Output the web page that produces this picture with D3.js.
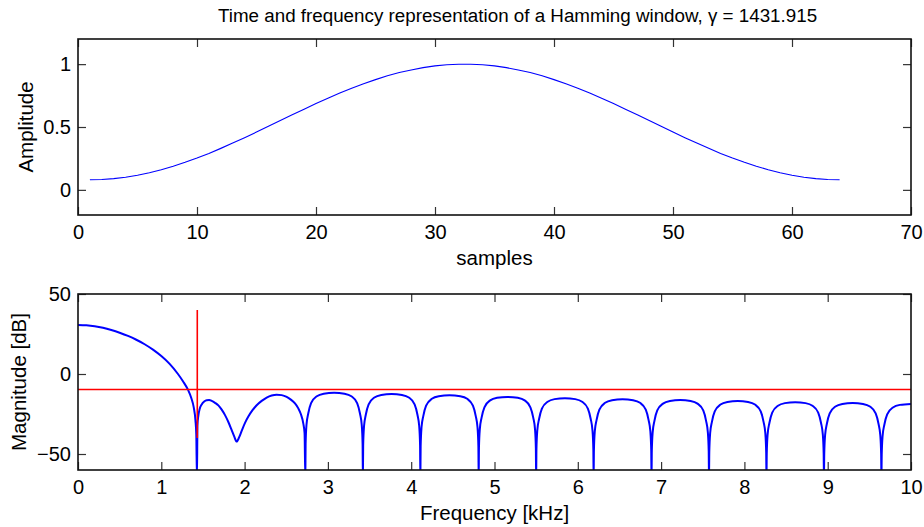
<!DOCTYPE html>
<html><head><meta charset="utf-8">
<script src="https://cdn.jsdelivr.net/npm/d3@7"></script>
<style>
body{margin:0;background:#fff;}
svg{display:block;}
text{font-family:"Liberation Sans",Arial,Helvetica,sans-serif;fill:#000;}
</style>
</head><body>
<svg id="chart" width="924" height="527"></svg>
<script>
// ---------- data ----------
const titleText = "Time and frequency representation of a Hamming window, \u03B3 = 1431.915";
const windowValues = [
0.080,0.082,0.089,0.100,0.116,0.136,0.160,0.188,0.219,0.253,0.290,0.330,0.372,0.415,0.460,0.506,
0.552,0.597,0.642,0.687,0.729,0.770,0.809,0.844,0.877,0.907,0.933,0.954,0.972,0.986,0.995,0.999,
0.999,0.995,0.986,0.972,0.954,0.933,0.907,0.877,0.844,0.809,0.770,0.729,0.687,0.642,0.597,0.552,
0.506,0.460,0.415,0.372,0.330,0.290,0.253,0.219,0.188,0.160,0.136,0.116,0.100,0.089,0.082,0.080];
const sampleTicks = [0,10,20,30,40,50,60,70];
const amplitudeTicks = [0,0.5,1];

const freqKHz = [
0,0.1,0.2,0.3,0.4,0.5,0.6,0.7,0.8,0.9,1.0,1.1,1.2,1.26,1.32,1.36,1.39,1.41,1.42,1.428,
1.434,1.445,1.46,1.485,1.515,1.545,1.575,1.605,1.645,1.685,1.725,1.765,1.805,1.845,1.875,1.905,1.935,1.965,2.005,2.045,2.095,2.145,2.205,2.265,2.325,2.385,2.445,2.505,2.555,2.605,2.645,2.675,2.705,2.72,2.729,
2.7325,2.743,2.764,2.798,2.867,2.950,3.0745,3.199,3.282,3.351,3.385,3.406,3.4165,3.42,
3.4235,3.434,3.455,3.489,3.558,3.641,3.765,3.889,3.972,4.041,4.075,4.096,4.1065,4.11,
4.1135,4.124,4.145,4.179,4.248,4.331,4.46,4.589,4.672,4.741,4.775,4.796,4.8065,4.81,
4.8135,4.824,4.845,4.879,4.948,5.031,5.155,5.279,5.362,5.431,5.465,5.486,5.4965,5.50,
5.5035,5.514,5.535,5.569,5.638,5.721,5.845,5.969,6.052,6.121,6.155,6.176,6.1865,6.19,
6.1935,6.204,6.225,6.259,6.328,6.411,6.5375,6.664,6.747,6.816,6.85,6.871,6.8815,6.885,
6.8885,6.899,6.92,6.954,7.023,7.106,7.23,7.354,7.437,7.506,7.54,7.561,7.5715,7.575,
7.5785,7.589,7.61,7.644,7.713,7.796,7.92,8.044,8.127,8.196,8.23,8.251,8.2615,8.265,
8.2685,8.279,8.30,8.334,8.403,8.486,8.61,8.734,8.817,8.886,8.92,8.941,8.9515,8.955,
8.9585,8.969,8.99,9.024,9.093,9.176,9.30,9.424,9.507,9.576,9.61,9.631,9.6415,9.645,
9.6485,9.659,9.68,9.714,9.783,9.866,10.0];
const magDb = [
30.7,30.5,29.9,28.9,27.5,25.8,23.8,21.4,18.6,15.2,11.2,6.3,0.0,-4.5,-9.8,-15,-21,-29,-38,-65,
-32,-26,-22,-19,-17.2,-16.4,-16.3,-16.8,-18,-19.6,-22.3,-25.7,-30,-35.1,-39,-42.2,-39.5,-35.5,-30.5,-26.6,-22.6,-19.5,-16.8,-14.7,-13.4,-12.9,-13.2,-14.3,-16,-18.4,-21.5,-25,-31,-37,-65,
-43.7,-31.7,-24.7,-18.2,-13.9,-12.3,-11.7,-12.3,-13.9,-18.2,-24.7,-31.7,-43.7,-65,
-44.5,-32.5,-25.5,-19.0,-14.7,-13.1,-12.5,-13.1,-14.7,-19.0,-25.5,-32.5,-44.5,-65,
-45.3,-33.3,-26.3,-19.8,-15.5,-13.9,-13.3,-13.9,-15.5,-19.8,-26.3,-33.3,-45.3,-65,
-46.3,-34.3,-27.3,-20.8,-16.5,-14.9,-14.3,-14.9,-16.5,-20.8,-27.3,-34.3,-46.3,-65,
-47.1,-35.1,-28.1,-21.6,-17.3,-15.7,-15.1,-15.7,-17.3,-21.6,-28.1,-35.1,-47.1,-65,
-47.8,-35.8,-28.8,-22.3,-18.0,-16.4,-15.8,-16.4,-18.0,-22.3,-28.8,-35.8,-47.8,-65,
-48.3,-36.3,-29.3,-22.8,-18.5,-16.9,-16.3,-16.9,-18.5,-22.8,-29.3,-36.3,-48.3,-65,
-48.9,-36.9,-29.9,-23.4,-19.1,-17.5,-16.9,-17.5,-19.1,-23.4,-29.9,-36.9,-48.9,-65,
-49.6,-37.6,-30.6,-24.1,-19.8,-18.2,-17.6,-18.2,-19.8,-24.1,-30.6,-37.6,-49.6,-65,
-50.1,-38.1,-31.1,-24.6,-20.3,-18.7,-18.1,-18.7,-20.3,-24.6,-31.1,-38.1,-50.1,-65,
-50.7,-38.7,-31.7,-25.2,-20.9,-19.3,-18.7];
const freqTicks = [0,1,2,3,4,5,6,7,8,9,10];
const dbTicks = [-50,0,50];
const cutoffKHz = 1.431915;
const cutoffSpanDb = [-40, 40];
const thresholdDb = -9.7;

// ---------- layout ----------
const svg = d3.select("#chart");
const L = 78, R = 911;
const top1 = 39, bot1 = 215, top2 = 294, bot2 = 470;
const FS = 20;      // tick labels
const LFS = 20.5;   // axis labels
const TICK = 8;

svg.append("rect").attr("width",924).attr("height",527).attr("fill","#fff");

const defs = svg.append("defs");
defs.append("clipPath").attr("id","clip1").append("rect").attr("x",L).attr("y",top1).attr("width",R-L).attr("height",bot1-top1);
defs.append("clipPath").attr("id","clip2").append("rect").attr("x",L).attr("y",top2).attr("width",R-L).attr("height",bot2-top2);

function drawAxes(x, y, xTicks, yTicks, yTop, yBot, xFmt, yFmt) {
  const gb = svg.append("g").attr("transform",`translate(0,${yBot})`)
    .call(d3.axisBottom(x).tickValues(xTicks).tickSize(-TICK).tickPadding(10).tickFormat(xFmt));
  const gt = svg.append("g").attr("transform",`translate(0,${yTop})`)
    .call(d3.axisTop(x).tickValues(xTicks).tickSize(-TICK).tickFormat(""));
  const gl = svg.append("g").attr("transform",`translate(${L},0)`)
    .call(d3.axisLeft(y).tickValues(yTicks).tickSize(-TICK).tickPadding(7).tickFormat(yFmt));
  const gr = svg.append("g").attr("transform",`translate(${R},0)`)
    .call(d3.axisRight(y).tickValues(yTicks).tickSize(-TICK).tickFormat(""));
  [gb,gt,gl,gr].forEach(g=>{
    g.select(".domain").remove();
    g.selectAll(".tick line").attr("stroke","#333").attr("stroke-width",1.2);
    g.selectAll(".tick text").attr("font-size",FS).attr("fill","#000")
      .attr("font-family","Liberation Sans, Arial, sans-serif");
  });
  gb.selectAll(".tick text").attr("dy","0.72em");
  svg.append("rect").attr("x",L).attr("y",yTop).attr("width",R-L).attr("height",yBot-yTop)
    .attr("fill","none").attr("stroke","#111").attr("stroke-width",1.6);
}

// ---------- top plot ----------
const x1 = d3.scaleLinear().domain([0,70]).range([L,R]);
const y1 = d3.scaleLinear().domain([-0.2,1.2]).range([bot1,top1]);

svg.append("path")
  .datum(windowValues)
  .attr("clip-path","url(#clip1)")
  .attr("fill","none").attr("stroke","#0000ff").attr("stroke-width",1.1)
  .attr("d", d3.line().x((d,i)=>x1(i+1)).y(d=>y1(d)));

drawAxes(x1, y1, sampleTicks, amplitudeTicks, top1, bot1, d3.format("d"), d=>String(d));

svg.append("text").attr("x",(L+R)/2).attr("y",257).attr("text-anchor","middle")
  .attr("dominant-baseline","central").attr("font-size",LFS).text("samples");
svg.append("text").attr("transform",`translate(25,${(top1+bot1)/2}) rotate(-90)`)
  .attr("text-anchor","middle").attr("dominant-baseline","central").attr("font-size",LFS).text("Amplitude");

svg.append("text").attr("x",218).attr("y",15).attr("text-anchor","start")
  .attr("dominant-baseline","central").attr("font-size",18.8).text(titleText);

// ---------- bottom plot ----------
const x2 = d3.scaleLinear().domain([0,10]).range([L,R]);
const y2 = d3.scaleLinear().domain([-60,50]).range([bot2,top2]);

const spectrum = freqKHz.map((f,i)=>[f, magDb[i]]);
svg.append("path")
  .datum(spectrum)
  .attr("clip-path","url(#clip2)")
  .attr("fill","none").attr("stroke","#0000ff").attr("stroke-width",2)
  .attr("stroke-linejoin","round")
  .attr("d", d3.line().x(d=>x2(d[0])).y(d=>y2(d[1])).curve(d3.curveMonotoneX));

// red lines
svg.append("line").attr("clip-path","url(#clip2)")
  .attr("x1",x2(0)).attr("x2",x2(10)).attr("y1",y2(thresholdDb)).attr("y2",y2(thresholdDb))
  .attr("stroke","#ff0000").attr("stroke-width",1.6);
svg.append("line").attr("clip-path","url(#clip2)")
  .attr("x1",x2(cutoffKHz)).attr("x2",x2(cutoffKHz)).attr("y1",y2(cutoffSpanDb[0])).attr("y2",y2(cutoffSpanDb[1]))
  .attr("stroke","#ff0000").attr("stroke-width",1.6);

drawAxes(x2, y2, freqTicks, dbTicks, top2, bot2, d3.format("d"), d=>d<0?"\u2212"+Math.abs(d):String(d));

svg.append("text").attr("x",(L+R)/2).attr("y",512).attr("text-anchor","middle")
  .attr("dominant-baseline","central").attr("font-size",LFS).text("Frequency [kHz]");
svg.append("text").attr("transform",`translate(18,${(top2+bot2)/2}) rotate(-90)`)
  .attr("text-anchor","middle").attr("dominant-baseline","central").attr("font-size",LFS).text("Magnitude [dB]");
</script>
</body></html>
